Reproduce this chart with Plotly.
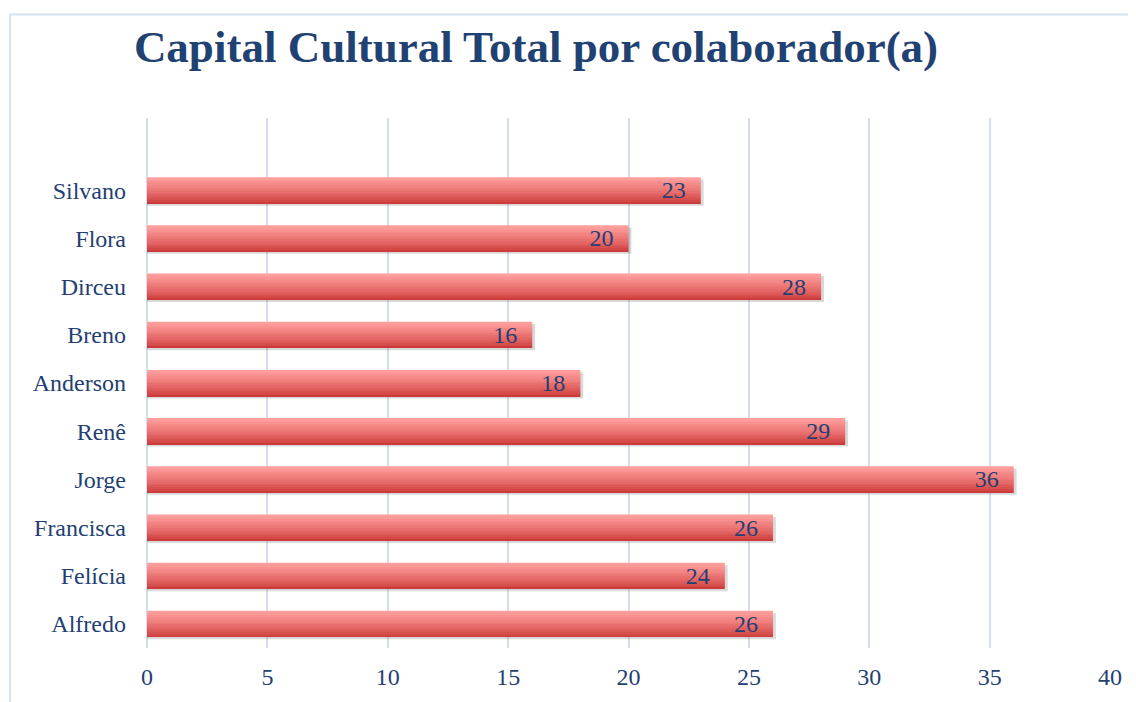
import plotly.graph_objects as go

names = ["Alfredo", "Felícia", "Francisca", "Jorge", "Renê", "Anderson", "Breno", "Dirceu", "Flora", "Silvano"]
values = [26, 24, 26, 36, 29, 18, 16, 28, 20, 23]
x_ticks = [0, 5, 10, 15, 20, 25, 30, 35, 40]
title_text = "Capital Cultural Total por colaborador(a)"

BAR_W = 0.54
N_STRIPS = 14
top_rgb = (255, 158, 156)
bot_rgb = (204, 58, 58)
SERIF = "Liberation Serif, DejaVu Serif, serif"

# page body has an 8px margin; compensate so plot sits where the reference has it
PAGE_OFF = 8
W, H = 1136 - PAGE_OFF, 702 - PAGE_OFF
ML, MR, MT, MB = 147 - PAGE_OFF, 26, 118 - PAGE_OFF, 52
PW, PH = W - ML - MR, H - MT - MB

fig = go.Figure()

# soft shadow
fig.add_trace(go.Bar(
    y=names, x=[v + 0.12 for v in values], orientation="h",
    width=BAR_W, offset=-BAR_W / 2 - 0.05,
    marker=dict(color="rgba(80,80,80,0.22)", line=dict(width=0)),
    hoverinfo="skip", showlegend=False,
))

# gradient strips (bottom -> top)
sw = BAR_W / N_STRIPS
for k in range(N_STRIPS):
    t = k / (N_STRIPS - 1)
    t2 = t ** 0.8
    c = tuple(round(bot_rgb[i] + (top_rgb[i] - bot_rgb[i]) * t2) for i in range(3))
    fig.add_trace(go.Bar(
        y=names, x=values, orientation="h",
        width=sw * 1.05, offset=-BAR_W / 2 + k * sw,
        marker=dict(color=f"rgb{c}", line=dict(width=0)),
        hoverinfo="skip", showlegend=False,
    ))

# labels
fig.add_trace(go.Bar(
    y=names, x=values, orientation="h",
    width=BAR_W, offset=-BAR_W / 2,
    marker=dict(color="rgba(0,0,0,0)", line=dict(width=0)),
    text=[f"{v}\u00a0\u00a0" for v in values], textposition="inside", textangle=0,
    insidetextanchor="end", constraintext="none", cliponaxis=False,
    textfont=dict(family=SERIF, size=24, color="#243F73"),
    showlegend=False,
))

fig.update_layout(
    width=W, height=H,
    barmode="overlay",
    paper_bgcolor="white", plot_bgcolor="white",
    margin=dict(l=ML, r=MR, t=MT, b=MB),
    title=dict(
        text=title_text, x=(536 - PAGE_OFF) / W, xanchor="center", xref="container",
        y=1 - (46 - PAGE_OFF) / H, yanchor="middle", yref="container",
        font=dict(family=SERIF, size=45, color="#1F4273", weight="bold"),
    ),
    font=dict(family=SERIF, color="#243F73"),
    xaxis=dict(
        range=[0, 40], tickvals=x_ticks, ticktext=[str(v) for v in x_ticks],
        showgrid=True, gridcolor="#D3DFEE", gridwidth=2,
        zeroline=True, zerolinecolor="#D3DFEE", zerolinewidth=2,
        showline=False, ticks="", tickfont=dict(size=24, color="#243F73"),
        ticklabelstandoff=12,
    ),
    yaxis=dict(
        type="category", categoryorder="array", categoryarray=names,
        range=[-0.5, 10.5], showgrid=False, zeroline=False, showline=False,
        ticks="", tickfont=dict(size=24, color="#243F73"), ticklabelstandoff=20,
    ),
    shapes=[dict(
        type="rect", xref="paper", yref="paper",
        x0=-137 / PW, x1=1.5, y0=-1, y1=1 + 104 / PH,
        line=dict(color="#D6E2F0", width=2), fillcolor="rgba(0,0,0,0)", layer="below",
    )],
)

fig.write_html("out.html")
